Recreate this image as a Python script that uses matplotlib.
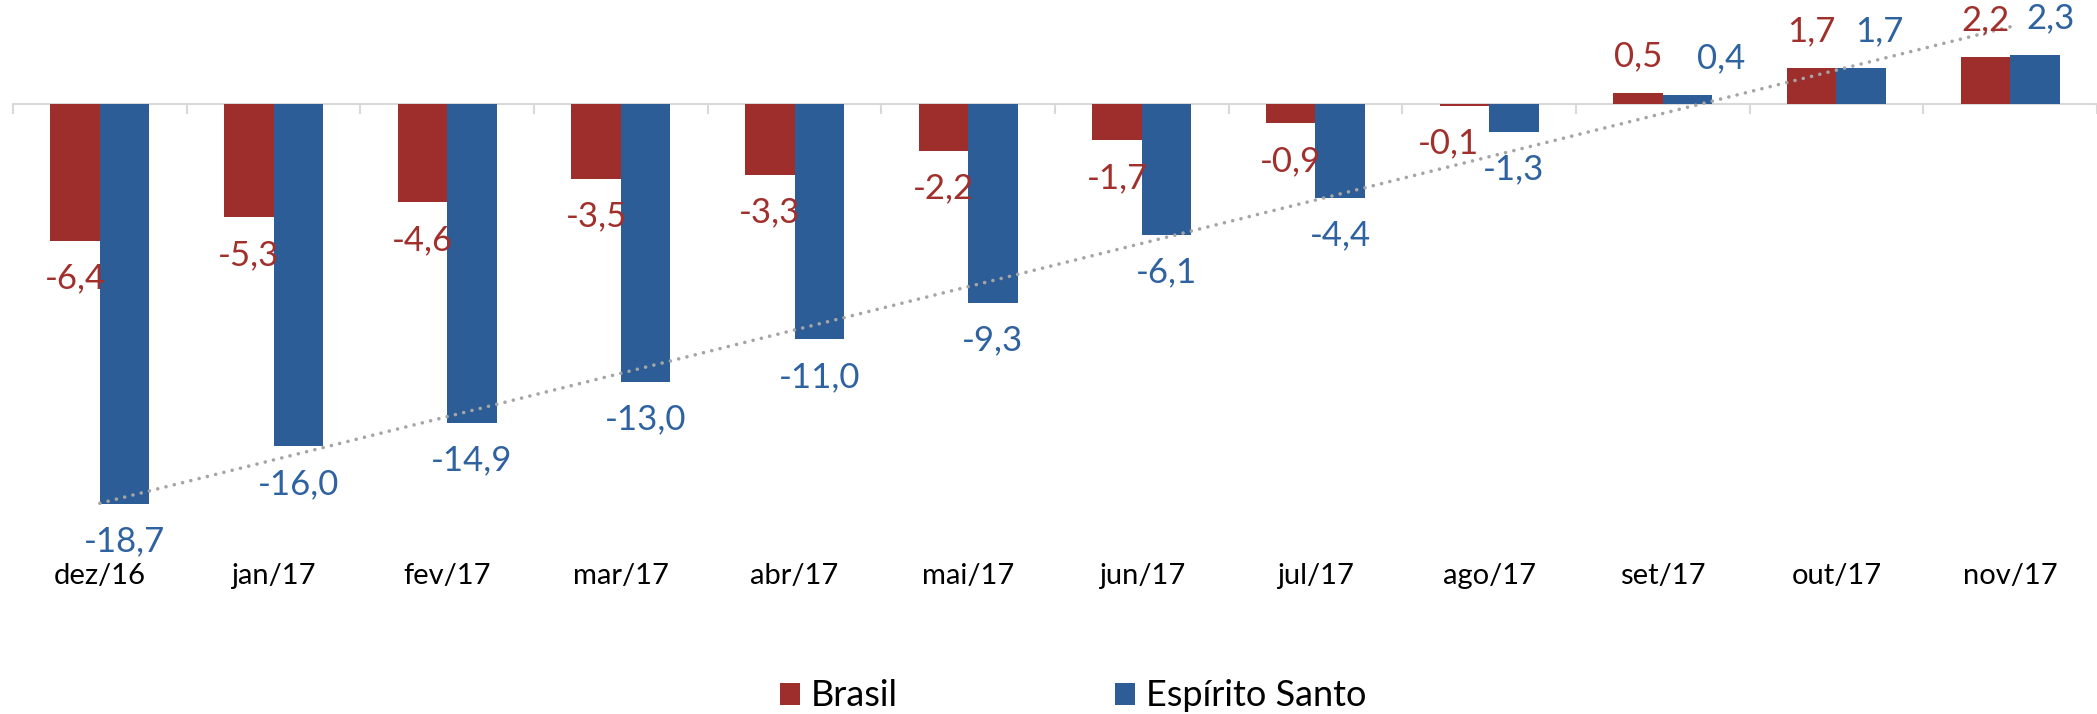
import numpy as np
import matplotlib
matplotlib.use("Agg")
import matplotlib.pyplot as plt

# ==========================================================
# DADOS
# ==========================================================

meses = ["dez/16", "jan/17", "fev/17", "mar/17", "abr/17", "mai/17",
         "jun/17", "jul/17", "ago/17", "set/17", "out/17", "nov/17"]

brasil = [-6.4, -5.3, -4.6, -3.5, -3.3, -2.2, -1.7, -0.9, -0.1, 0.5, 1.7, 2.2]
espirito_santo = [-18.7, -16.0, -14.9, -13.0, -11.0, -9.3, -6.1, -4.4, -1.3, 0.4, 1.7, 2.3]

# rótulos que foram deslocados à mão no original (pontos, horizontal)
ajuste_br = {"ago/17": -11.5}
ajuste_es = {"set/17": 23.8, "out/17": 13.0, "nov/17": 11.5}

cor_br = "#9E2E2B"
cor_es = "#2D5D97"
cor_txt_br = "#A1302C"
cor_txt_es = "#2F62A0"
cinza = "#D9D9D9"

plt.rcParams["font.family"] = ["Lato", "DejaVu Sans"]

# ==========================================================
# FIGURA
# ==========================================================

W, H = 2097, 714
fig = plt.figure(figsize=(W / 100, H / 100), dpi=100)

ax_left = 13 / W
ax_bottom_px = 555
ax = fig.add_axes([ax_left, 1 - ax_bottom_px / H, 1 - ax_left, ax_bottom_px / H])

px_por_unidade = 21.4
zero_px = 104
ax.set_ylim(-(ax_bottom_px - zero_px) / px_por_unidade, zero_px / px_por_unidade)
ax.set_xlim(-0.5, len(meses) - 0.5)

x = np.arange(len(meses))
larg = 0.285

ax.bar(x - larg / 2, brasil, width=larg, color=cor_br, label="Brasil", zorder=2)
ax.bar(x + larg / 2, espirito_santo, width=larg, color=cor_es,
       label="Espírito Santo", zorder=2)

# linha de tendência (linear) do Espírito Santo
coef = np.polyfit(x, espirito_santo, 1)
xs = np.array([x[0], x[-1]])
ax.plot(xs, np.polyval(coef, xs), color="#A5A5A5", lw=2.6,
        linestyle=(0, (0.01, 2.35)), dash_capstyle="round", zorder=3)

# rótulos de dados
def rotulos(xpos, valores, cor, ajuste):
    for mes, xi, v in zip(meses, xpos, valores):
        off = 26.5 if v >= 0 else -27
        ax.annotate(f"{v:.1f}".replace(".", ","), (xi, v),
                    xytext=(ajuste.get(mes, 0), off), textcoords="offset points",
                    ha="center", va="center", fontsize=25, color=cor,
                    annotation_clip=False, zorder=4)

rotulos(x - larg / 2, brasil, cor_txt_br, ajuste_br)
rotulos(x + larg / 2, espirito_santo, cor_txt_es, ajuste_es)

# eixo horizontal no zero com marcas entre categorias
for lado in ["top", "right", "left"]:
    ax.spines[lado].set_visible(False)
ax.spines["bottom"].set_position(("data", 0))
ax.spines["bottom"].set_color(cinza)
ax.spines["bottom"].set_linewidth(1.5)
ax.spines["bottom"].set_zorder(1)
ax.set_yticks([])
ax.set_xticks(x)
ax.set_xticks(np.arange(-0.5, len(meses), 1.0), minor=True)
ax.tick_params(axis="x", which="major", length=0, labelbottom=False)
ax.tick_params(axis="x", which="minor", length=7.2, width=1.5,
               color=cinza, direction="out")

# rótulos das categorias na parte de baixo
sec = ax.secondary_xaxis("bottom")
sec.set_xticks(x)
sec.set_xticklabels(meses, fontsize=21, color="black")
sec.tick_params(length=0, pad=6)
sec.spines["bottom"].set_visible(False)

# legenda
h, l = ax.get_legend_handles_labels()
fig.legend(h, l, loc="center", bbox_to_anchor=(1073 / W, 1 - 696 / H),
           ncol=2, frameon=False, fontsize=26, handlelength=0.56,
           handleheight=0.56, handletextpad=0.3, columnspacing=6.0,
           borderpad=0)

fig.savefig("out.png", dpi=100)
